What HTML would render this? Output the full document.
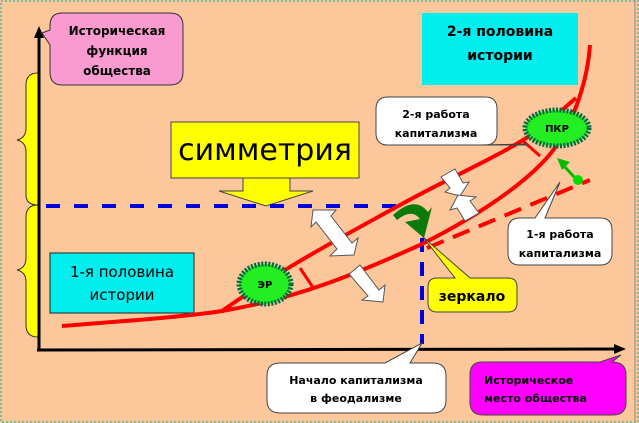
<!DOCTYPE html>
<html><head><meta charset="utf-8"><style>
html,body{margin:0;padding:0;background:#fcc89b;}
svg{display:block}
text{font-family:"DejaVu Sans","Liberation Sans",sans-serif;font-weight:bold;fill:#000;}
</style></head><body>
<svg width="639" height="423" viewBox="0 0 639 423" xmlns="http://www.w3.org/2000/svg">
<rect x="0" y="0" width="639" height="423" fill="#fcc89b"/>
<rect x="1" y="1" width="637" height="421" fill="none" stroke="#4cb8a8" stroke-width="1.5" stroke-dasharray="2 2"/>
<line x1="635" y1="0" x2="635" y2="423" stroke="#888" stroke-width="1"/>
<!-- braces -->
<path d="M38,73 Q26,73 26,85 L26,128 Q26,138 17,140 Q26,142 26,152 L26,195 Q26,205 38,205 Z" fill="#ffff00" stroke="#333" stroke-width="1"/>
<path d="M38,205 Q26,205 26,217 L26,258 Q26,268 17,270 Q26,272 26,282 L26,325 Q26,337 38,337 Z" fill="#ffff00" stroke="#333" stroke-width="1"/>
<!-- axes -->
<line x1="39" y1="350" x2="39" y2="36" stroke="#000" stroke-width="3"/>
<polygon points="39,26 34,38 44,38" fill="#000"/>
<line x1="37" y1="350" x2="618" y2="349" stroke="#000" stroke-width="3"/>
<polygon points="626,349 614,344 614,354" fill="#000"/>
<!-- pink callout -->
<path d="M60,13 L170,13 Q183,13 183,26 L183,72 Q183,85 170,85 L62,85 Q50,85 50,72 L50,45 L42,33 L50,30 L50,26 Q50,13 62,13 Z" fill="#f99ad0" stroke="#333" stroke-width="1"/>
<text x="117" y="35" font-size="12" text-anchor="middle">Историческая</text>
<text x="117" y="55" font-size="12" text-anchor="middle">функция</text>
<text x="117" y="75" font-size="12" text-anchor="middle">общества</text>
<!-- cyan boxes -->
<rect x="422" y="13" width="156" height="72" fill="#00eeee"/>
<text x="500" y="36" font-size="14" text-anchor="middle">2-я половина</text>
<text x="500" y="60" font-size="14" text-anchor="middle">истории</text>
<rect x="50" y="253" width="144" height="60" fill="#00eeee" stroke="#222" stroke-width="1"/>
<text x="122" y="277" font-size="15" text-anchor="middle" style="font-weight:normal">1-я половина</text>
<text x="122" y="300" font-size="15" text-anchor="middle" style="font-weight:normal">истории</text>
<!-- symmetry -->
<rect x="171" y="122" width="188" height="56" fill="#ffff00" stroke="#444" stroke-width="1"/>
<text x="265" y="160" font-size="30" text-anchor="middle" style="font-weight:normal">симметрия</text>
<polygon points="243,178 290,178 290,191 313,191 266,206 219,191 243,191" fill="#ffff00" stroke="#444" stroke-width="1"/>
<!-- blue dashes -->
<line x1="46" y1="206" x2="400" y2="206" stroke="#0000dd" stroke-width="4" stroke-dasharray="14 14"/>
<line x1="422" y1="238" x2="422" y2="344" stroke="#0000dd" stroke-width="4" stroke-dasharray="14 10"/>
<!-- red curves -->
<path d="M62,326 C140,320 190,316 222,311 C300,298 360,272 420,245 C480,215 540,175 560,140 C578,110 588,75 590,45" fill="none" stroke="#f00" stroke-width="4"/>
<path d="M222,311 C280,270 340,238 400,205 C460,172 510,152 545,125 C560,112 570,103 576,98" fill="none" stroke="#f00" stroke-width="4"/>
<line x1="427" y1="248" x2="590" y2="180" stroke="#f00" stroke-width="4" stroke-dasharray="18 10"/>
<line x1="300" y1="268" x2="314" y2="289" stroke="#f00" stroke-width="3"/>
<line x1="523" y1="141" x2="540" y2="156" stroke="#f00" stroke-width="3"/>
<!-- starbursts -->
<ellipse cx="265" cy="284" rx="26" ry="20" fill="#22ee22" stroke="#064" stroke-width="5" stroke-dasharray="2 1.5"/>
<text x="265" y="288" font-size="10" text-anchor="middle">ЭР</text>
<ellipse cx="557" cy="128" rx="32" ry="18" fill="#22ee22" stroke="#064" stroke-width="5" stroke-dasharray="2 1.5"/>
<text x="557" y="132" font-size="10" text-anchor="middle">ПКР</text>
<!-- white double arrows -->
<g fill="#fff" stroke="#555" stroke-width="1">
<polygon points="313,210 336,210 331,216 352,243 358,238 354,255 330,256 337,249 316,222 311,227"/>
<polygon points="353,271 360,265 379,290 385,285 383,302 362,300 368,296 349,274"/>
<polygon points="441,177 455,169 463,183 469,182 460,196 445,192 450,188"/>
<polygon points="458,195 476,197 470,201 479,213 465,221 457,208 450,210"/>
</g>
<!-- green curved arrow -->
<path d="M393,215 Q415,195 428,212 L432,207 L424,238 L405,222 L420,219 Q412,208 397,220 Z" fill="#0a7a0a"/>
<!-- small green arrow -->
<line x1="577" y1="180" x2="564" y2="166" stroke="#0b0" stroke-width="3"/>
<polygon points="557,158 570,162 562,170" fill="#0b0"/>
<circle cx="578" cy="180" r="5" fill="#0d0"/>
<!-- callouts -->
<path d="M388,97 L485,97 Q497,97 497,109 L497,133 Q497,145 485,145 L505,145 L527,145 L494,145 L388,145 Q376,145 376,133 L376,109 Q376,97 388,97 Z" fill="#fff" stroke="#444" stroke-width="1"/>
<path d="M494,145 L527,144 L478,145" fill="#fff" stroke="#444"/>
<text x="436" y="118" font-size="11" text-anchor="middle">2-я работа</text>
<text x="436" y="137" font-size="11" text-anchor="middle">капитализма</text>
<path d="M520,218 L535,218 L560,182 L545,218 L600,218 Q612,218 612,230 L612,253 Q612,265 600,265 L520,265 Q508,265 508,253 L508,230 Q508,218 520,218 Z" fill="#fff" stroke="#444" stroke-width="1"/>
<text x="560" y="238" font-size="11" text-anchor="middle">1-я работа</text>
<text x="560" y="257" font-size="11" text-anchor="middle">капитализма</text>
<path d="M437,278 L455,278 L423,237 L470,278 L508,278 Q517,278 517,287 L517,303 Q517,312 508,312 L437,312 Q428,312 428,303 L428,287 Q428,278 437,278 Z" fill="#ffff00" stroke="#444" stroke-width="1"/>
<text x="472" y="301" font-size="14" text-anchor="middle">зеркало</text>
<path d="M280,363 L385,363 L422,343 L410,363 L433,363 Q446,363 446,376 L446,400 Q446,413 433,413 L280,413 Q267,413 267,400 L267,376 Q267,363 280,363 Z" fill="#fff" stroke="#444" stroke-width="1"/>
<text x="356" y="384" font-size="11" text-anchor="middle">Начало капитализма</text>
<text x="356" y="402" font-size="11" text-anchor="middle">в феодализме</text>
<path d="M482,362 L600,362 L621,355 L612,362 Q626,362 626,375 L626,402 Q626,415 613,415 L483,415 Q470,415 470,402 L470,375 Q470,362 482,362 Z" fill="#ff00ff" stroke="#444" stroke-width="1"/>
<text x="484" y="384" font-size="11">Историческое</text>
<text x="484" y="402" font-size="11">место общества</text>
</svg>
</body></html>
